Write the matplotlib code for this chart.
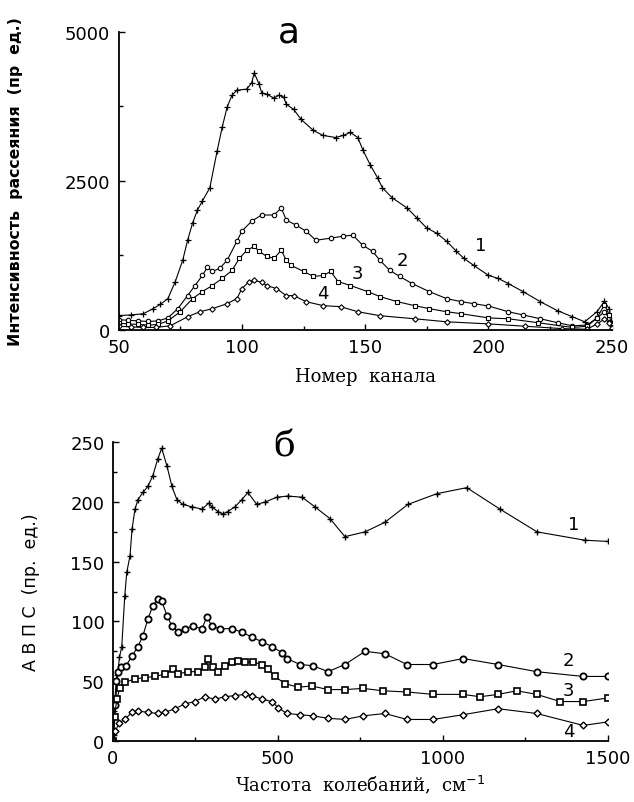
import matplotlib
matplotlib.use("Agg")
import matplotlib.pyplot as plt
from matplotlib.ticker import MultipleLocator

plt.rcParams['font.family'] = ['DejaVu Sans']

# ---- panel "а": scattering intensity vs channel number ----
ch1 = [50, 55, 60, 64, 67, 70, 73, 76, 78, 80, 82, 84, 87, 90, 92, 94, 96, 98, 102, 104,
       105, 107, 108, 110, 113, 115, 117, 118, 121, 124, 129, 133, 138, 141, 144, 147, 149,
       152, 155, 157, 161, 167, 171, 175, 179, 183, 187, 190, 194, 200, 204, 208, 214, 221,
       228, 234, 239, 244, 247, 249, 250]
int1 = [240, 250, 270, 355, 430, 524, 811, 1166, 1504, 1791, 2011, 2163, 2383, 3008, 3397,
        3735, 3938, 4022, 4040, 4150, 4310, 4124, 3980, 3955, 3890, 3938, 3904, 3786, 3700,
        3532, 3346, 3262, 3228, 3262, 3312, 3228, 3025, 2772, 2552, 2383, 2214, 2045, 1876,
        1707, 1622, 1487, 1318, 1200, 1082, 913, 862, 777, 642, 473, 321, 220, 135, 304, 480,
        350, 120]

ch2 = [50, 54, 58, 62, 66, 70, 74, 78, 81, 84, 86, 88, 91, 94, 98, 100, 104, 108, 113, 116,
       118, 122, 126, 130, 136, 141, 145, 149, 153, 156, 160, 164, 169, 176, 183, 189, 194,
       200, 208, 214, 221, 228, 234, 240, 244, 247, 249, 250]
int2 = [170, 160, 150, 140, 150, 200, 355, 575, 744, 913, 1050, 980, 1031, 1166, 1487, 1656,
        1825, 1927, 1927, 2045, 1842, 1757, 1656, 1504, 1538, 1572, 1589, 1420, 1318, 1166,
        997, 896, 777, 642, 524, 473, 439, 400, 304, 250, 186, 120, 68, 80, 200, 300, 200, 80]

ch3 = [50, 54, 58, 62, 66, 70, 75, 80, 84, 88, 92, 96, 99, 102, 105, 107, 110, 113, 116,
       118, 120, 125, 129, 133, 136, 139, 144, 151, 156, 163, 170, 176, 183, 189, 200, 208,
       220, 234, 240, 244, 247, 249, 250]
int3 = [110, 100, 90, 80, 90, 150, 304, 524, 642, 744, 862, 997, 1200, 1335, 1400, 1318,
        1234, 1200, 1335, 1166, 1082, 980, 896, 913, 980, 811, 744, 642, 558, 473, 406, 355,
        304, 270, 200, 186, 120, 40, 60, 200, 420, 250, 50]

ch4 = [50, 55, 60, 65, 71, 78, 83, 88, 94, 98, 100, 103, 105, 108, 110, 114, 118, 121, 126,
       133, 140, 147, 156, 170, 183, 200, 215, 230, 240, 244, 247, 249, 250]
int4 = [60, 50, 40, 40, 68, 220, 304, 355, 439, 524, 693, 811, 830, 800, 744, 693, 575, 575,
        473, 406, 389, 304, 237, 186, 135, 100, 60, 20, 10, 100, 180, 120, 30]

# ---- panel "б": АВПС vs vibration frequency ----
nu1 = [3, 8, 14, 20, 27, 36, 42, 52, 58, 67, 76, 91, 106, 121, 136, 148, 164, 179, 194, 212,
       239, 270, 290, 300, 318, 333, 348, 370, 391, 409, 436, 461, 497, 530, 573, 612, 658,
       703, 764, 824, 894, 982, 1072, 1173, 1285, 1430, 1500]
g1 = [5, 30, 55, 70, 79, 121, 141, 155, 177, 194, 202, 208, 213, 222, 236, 245, 230, 213,
      202, 198, 196, 194, 199, 196, 192, 190, 192, 196, 202, 208, 198, 200, 204, 205, 204,
      196, 186, 171, 175, 183, 198, 207, 212, 194, 175, 168, 167]

nu2 = [0, 5, 10, 15, 25, 40, 58, 76, 91, 106, 121, 136, 148, 164, 179, 197, 218, 242, 270,
       285, 300, 324, 361, 391, 421, 452, 482, 512, 527, 567, 606, 652, 703, 764, 824, 891,
       970, 1061, 1167, 1284, 1425, 1500]
g2 = [0, 30, 50, 58, 62, 63, 71, 79, 88, 102, 113, 119, 117, 105, 96, 91, 94, 96, 94, 104,
      96, 94, 94, 91, 87, 83, 79, 74, 69, 64, 63, 58, 64, 75, 73, 64, 64, 69, 64, 58, 54, 54]

nu3 = [0, 5, 12, 21, 36, 67, 97, 127, 158, 182, 197, 227, 258, 279, 288, 303, 318, 339, 361,
       379, 400, 424, 452, 470, 491, 521, 561, 603, 652, 703, 758, 818, 891, 970, 1061, 1112,
       1167, 1224, 1284, 1355, 1425, 1500]
g3 = [0, 20, 35, 44, 49, 52, 53, 54, 56, 60, 56, 58, 58, 62, 69, 62, 58, 63, 66, 67, 66, 66,
      64, 60, 54, 48, 45, 46, 43, 43, 44, 42, 41, 39, 39, 37, 39, 42, 39, 33, 33, 36]

nu4 = [0, 8, 18, 36, 58, 76, 106, 136, 158, 188, 218, 248, 279, 309, 339, 370, 400, 421, 452,
       482, 500, 527, 567, 606, 652, 703, 758, 824, 891, 970, 1061, 1167, 1284, 1425, 1500]
g4 = [0, 8, 15, 18, 24, 25, 24, 23, 24, 27, 31, 33, 37, 35, 37, 38, 39, 38, 35, 33, 28, 23,
      22, 21, 19, 18, 21, 23, 18, 18, 22, 27, 23, 13, 16]

curve_labels = ["1", "2", "3", "4"]

fig = plt.figure(figsize=(6.34, 8.03), dpi=100)

line_kw = dict(color="black", linewidth=0.8)


def style_axes(ax):
    for side in ("top", "right"):
        ax.spines[side].set_visible(False)
    for side in ("left", "bottom"):
        ax.spines[side].set_linewidth(1.3)
    ax.tick_params(direction="in", length=4, width=1, labelsize=13, pad=6)
    ax.tick_params(which="minor", direction="in", length=3, width=1)


# upper panel
ax1 = fig.add_axes([0.187, 0.588, 0.778, 0.371])
ax1.plot(ch1, int1, marker="+", markersize=4, mew=0.9, **line_kw)
ax1.plot(ch2, int2, marker="o", markersize=3.2, mfc="white", mew=0.8, **line_kw)
ax1.plot(ch3, int3, marker="s", markersize=3.2, mfc="white", mew=0.8, **line_kw)
ax1.plot(ch4, int4, marker="D", markersize=2.8, mfc="white", mew=0.8, **line_kw)
ax1.set_xlim(50, 250)
ax1.set_ylim(0, 5000)
ax1.set_xticks([50, 100, 150, 200, 250])
ax1.set_yticks([0, 2500, 5000])
ax1.yaxis.set_minor_locator(MultipleLocator(1250))
ax1.xaxis.set_minor_locator(MultipleLocator(25))
style_axes(ax1)
ax1.set_xlabel("Номер  канала", family="DejaVu Serif", fontsize=13, labelpad=8)
ax1.set_ylabel("Интенсивность  рассеяния  (пр  ед.)", fontsize=11.3, fontweight="bold",
               labelpad=30)
ax1.text(0.345, 1.0, "а", transform=ax1.transAxes, fontsize=26, ha="center", va="center")
for lab, (x, y) in zip(curve_labels, [(197, 1420), (165, 1170), (147, 950), (133, 610)]):
    ax1.text(x, y, lab, fontsize=13, ha="center", va="center")

# lower panel
ax2 = fig.add_axes([0.178, 0.076, 0.781, 0.372])
ax2.plot(nu1, g1, marker="+", markersize=5, mew=1.0, **line_kw)
ax2.plot(nu2, g2, marker="o", markersize=4.5, mfc="white", mew=1.3, **line_kw)
ax2.plot(nu3, g3, marker="s", markersize=4, mfc="white", mew=1.2, **line_kw)
ax2.plot(nu4, g4, marker="D", markersize=3.5, mfc="white", mew=1.0, **line_kw)
ax2.set_xlim(0, 1500)
ax2.set_ylim(0, 250)
ax2.set_xticks([0, 500, 1000, 1500])
ax2.set_yticks([0, 50, 100, 150, 200, 250])
ax2.xaxis.set_minor_locator(MultipleLocator(250))
ax2.yaxis.set_minor_locator(MultipleLocator(25))
style_axes(ax2)
ax2.set_xlabel("Частота  колебаний,  см$^{-1}$", family="DejaVu Serif", fontsize=13,
               labelpad=4)
ax2.set_ylabel("А В П С  (пр.  ед.)", fontsize=12.5, labelpad=22)
ax2.text(0.345, 0.99, "б", transform=ax2.transAxes, fontsize=26, ha="center", va="center",
         family="DejaVu Serif")
for lab, (x, y) in zip(curve_labels, [(1395, 182), (1380, 68), (1380, 43), (1380, 8)]):
    ax2.text(x, y, lab, fontsize=13, ha="center", va="center")

fig.savefig("out.png", dpi=100)
